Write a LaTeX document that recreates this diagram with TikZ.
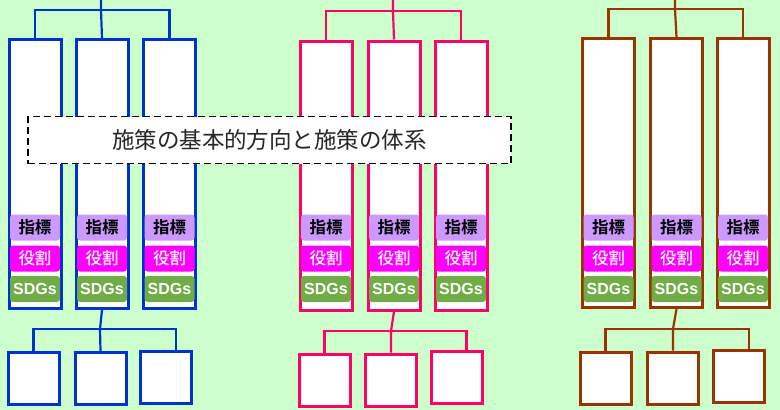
\documentclass[tikz,border=0pt]{standalone}
\usepackage{fontspec}
\newfontfamily\jpfont{Noto Sans CJK JP}
\newfontfamily\jpbold{Noto Sans CJK JP Bold}
\newfontfamily\jpmed{Noto Sans CJK JP Medium}
\newfontfamily\lsans{Liberation Sans}
\definecolor{bg}{RGB}{204,255,204}
\definecolor{cblue}{RGB}{0,51,204}
\definecolor{cpink}{RGB}{255,0,102}
\definecolor{cbrown}{RGB}{153,51,0}
\definecolor{lpurple}{RGB}{204,153,255}
\definecolor{lmag}{RGB}{255,0,255}
\definecolor{lgreen}{RGB}{112,173,71}
\tikzset{
  colbox/.style={draw=#1,line width=3pt,fill=white,inner sep=0pt,minimum width=52pt,minimum height=269pt},
  botbox/.style={draw=#1,line width=3pt,fill=white,inner sep=0pt,minimum width=51pt,minimum height=52pt},
  conn/.style={draw=#1,line width=2.2pt},
  lab/.style={rounded corners=3pt,inner sep=0pt,minimum width=50pt,minimum height=26pt},
  labA/.style={lab,fill=lpurple,text=black,font=\jpbold\fontsize{16.5}{16.5}\selectfont},
  labB/.style={lab,fill=lmag,text=white,font=\jpmed\fontsize{16.5}{16.5}\selectfont},
  labC/.style={lab,fill=lgreen,text=white,font=\lsans\bfseries\fontsize{16}{16}\selectfont},
  titlebox/.style={draw=black,dash pattern=on 7pt off 4pt,line width=1.5pt,fill=white,inner sep=0pt,minimum width=483pt,minimum height=47pt,font=\jpfont\fontsize{22.5}{22.5}\selectfont,text=black!85}
}
\begin{document}
\begin{tikzpicture}[x=1pt,y=-1pt]
\fill[bg] (0,0) rectangle (780,410);
\useasboundingbox (0,0) rectangle (780,410);
% group: prefix, colour, column centres, top y, bottom y, top bracket y, bottom junction y, bottom box centres
\foreach \p/\c/\xa/\xb/\xc/\ty/\hy/\stx/\jy/\jx/\ua/\ub/\uc/\va/\vb/\vc in {
  b/cblue/35/102/169.5/174/10/101/329/100/33.5/100.5/166/378.5/378.5/377.5,
  p/cpink/326/394/461/175.5/11/393/331/391/324.5/391/456.5/380/380/377.5,
  r/cbrown/608.5/676.5/743/173/9/675/329/673/605.5/673/739/378.5/378/376}{
  \node[colbox=\c] (\p1) at (\xa,\ty) {};
  \node[colbox=\c] (\p2) at (\xb,\ty) {};
  \node[colbox=\c] (\p3) at (\xc,\ty) {};
  \foreach \i/\xx in {1/\xa,2/\xb,3/\xc}{
    \node[labA] (\p a\i) at (\xx,227.5) {指標};
    \node[labB] (\p b\i) at (\xx,258.5) {役割};
    \node[labC] (\p c\i) at (\xx,289) {SDGs};
  }
  \node[botbox=\c] (\p q1) at (\ua,\va) {};
  \node[botbox=\c] (\p q2) at (\ub,\vb) {};
  \node[botbox=\c] (\p q3) at (\uc,\vc) {};
  \coordinate (\p top) at (\stx,0);
  \coordinate (\p h) at (\stx,\hy);
  \coordinate (\p j) at (\jx,\jy);
  \draw[conn=\c] (\p top) -- (\p h) -- (\p 2.north);
  \draw[conn=\c] (\p 1.north) |- (\p h) -| (\p 3.north);
  \draw[conn=\c] (\p 2.south) -- (\p j) -- (\p q2.north);
  \draw[conn=\c] (\p q1.north) |- (\p j) -| ([xshift=10pt]\p q3.north);
}
\node[titlebox] (title) at (269.5,140) {施策の基本的方向と施策の体系};
\end{tikzpicture}
\end{document}
